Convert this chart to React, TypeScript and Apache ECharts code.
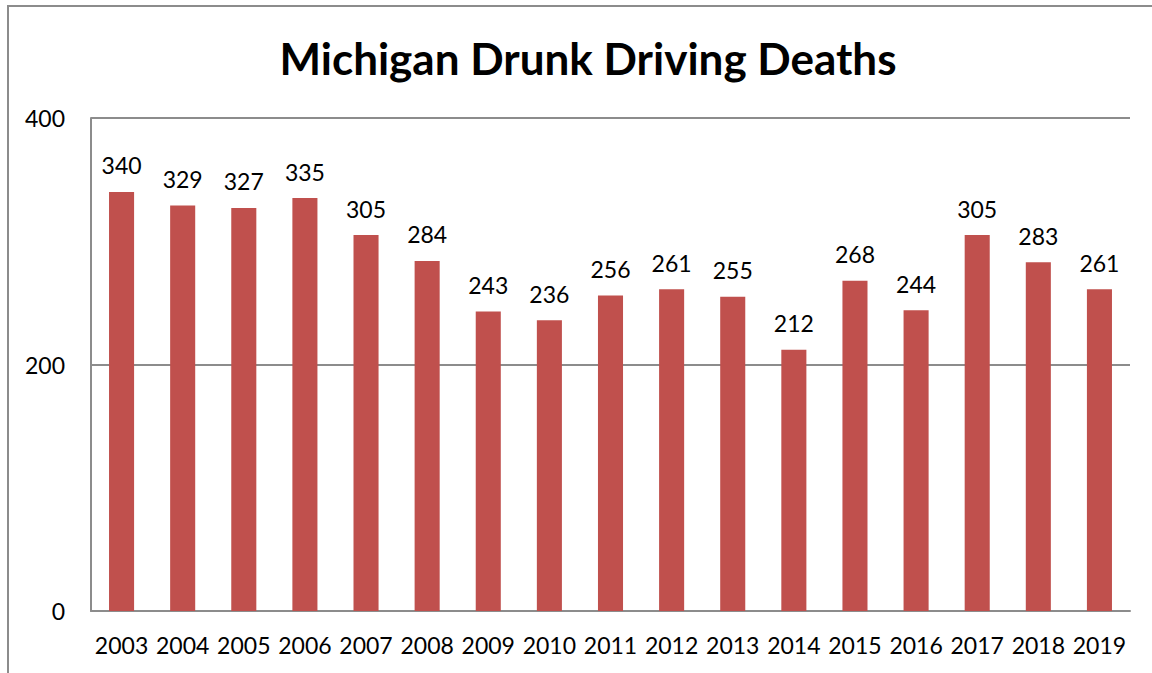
import React, { useEffect, useRef } from "react";
import * as echarts from "echarts";

const years = ["2003","2004","2005","2006","2007","2008","2009","2010","2011","2012","2013","2014","2015","2016","2017","2018","2019"];
const deaths = [340, 329, 327, 335, 305, 284, 243, 236, 256, 261, 255, 212, 268, 244, 305, 283, 261];
const title = "Michigan Drunk Driving Deaths";

export default function App() {
  const ref = useRef<HTMLDivElement>(null);
  useEffect(() => {
    const chart = echarts.init(ref.current!, null, { renderer: "svg" });
    const font = "Lato, 'Open Sans', sans-serif";
    chart.setOption({
      animation: false,
      backgroundColor: "#fff",
      title: {
        text: title,
        left: 583,
        textAlign: "center",
        top: 31,
        textStyle: { fontFamily: font, fontWeight: "bold", fontSize: 44, color: "#000" },
      },
      graphic: [
        {
          type: "rect",
          shape: { x: 8, y: 6, width: 1160, height: 700 },
          style: { fill: "none", stroke: "#8c8c8c", lineWidth: 2 },
          z: -1,
        },
      ],
      grid: { left: 91, right: 22, top: 118, bottom: 62, containLabel: false },
      xAxis: {
        type: "category",
        data: years,
        axisLine: { show: true, lineStyle: { color: "#8c8c8c", width: 2 } },
        axisTick: { show: false },
        axisLabel: { fontFamily: font, fontSize: 23, color: "#000", margin: 22, interval: 0 },
      },
      yAxis: {
        type: "value",
        min: 0,
        max: 400,
        interval: 200,
        axisLine: { show: true, lineStyle: { color: "#8c8c8c", width: 2 } },
        axisTick: { show: false },
        splitLine: { show: true, lineStyle: { color: "#8c8c8c", width: 2 } },
        axisLabel: { fontFamily: font, fontSize: 23, color: "#000", margin: 26 },
      },
      series: [
        {
          type: "bar",
          data: deaths,
          barWidth: "41%",
          itemStyle: { color: "#C0504D" },
          label: {
            show: true,
            position: "top",
            distance: 15,
            fontFamily: font,
            fontSize: 23,
            color: "#000",
          },
        },
      ],
    });
    return () => chart.dispose();
  }, []);
  return <div ref={ref} style={{ position: "absolute", left: 0, top: 0, width: 1152, height: 673 }} />;
}
